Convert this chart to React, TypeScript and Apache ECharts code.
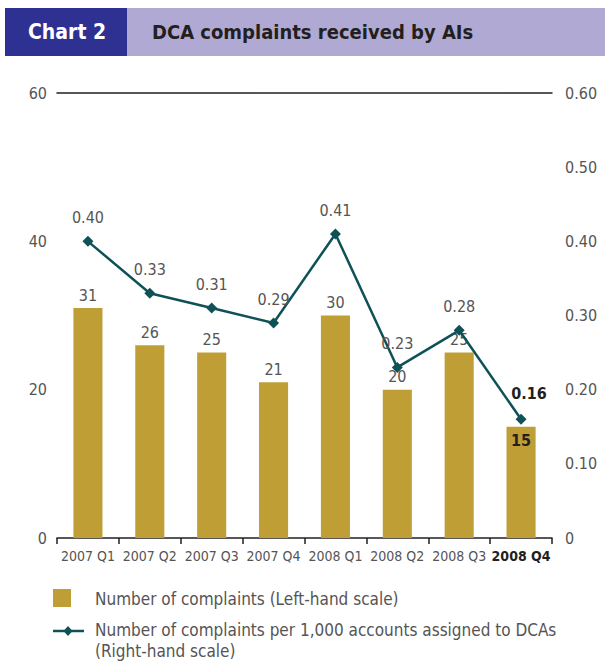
import React, { useEffect, useRef } from "react";
import * as echarts from "echarts";

const categories = ["2007 Q1", "2007 Q2", "2007 Q3", "2007 Q4", "2008 Q1", "2008 Q2", "2008 Q3", "2008 Q4"];
const complaints = [31, 26, 25, 21, 30, 20, 25, 15];
const perThousand = [0.40, 0.33, 0.31, 0.29, 0.41, 0.23, 0.28, 0.16];
const leftTicks = { min: 0, max: 60, interval: 20 };
const rightTicks = { min: 0, max: 0.6, interval: 0.1 };

const FONT = "'DejaVu Sans Condensed', 'Liberation Sans', sans-serif";
const GOLD = "#BE9E35";
const TEAL = "#0E5257";
const GREY = "#555555";
const DARK = "#231F20";

export default function App() {
  const ref = useRef<HTMLDivElement>(null);
  useEffect(() => {
    if (!ref.current) return;
    const chart = echarts.init(ref.current, null, { renderer: "svg" });
    const last = categories.length - 1;
    chart.setOption({
      animation: false,
      textStyle: { fontFamily: FONT },
      grid: { left: 57, right: 53, top: 93, bottom: 133 },
      xAxis: [
        {
          type: "category",
          data: categories.map((c, i) =>
            i === last ? { value: c, textStyle: { fontWeight: "bold", color: DARK } } : c
          ),
          axisLine: { lineStyle: { color: DARK, width: 1.5 } },
          axisTick: { show: true, length: 6, lineStyle: { color: DARK, width: 1.5 } },
          axisLabel: { color: GREY, fontSize: 14, margin: 11, interval: 0, fontFamily: FONT },
        },
        {
          type: "category",
          position: "top",
          data: categories,
          axisLine: { show: true, onZero: false, lineStyle: { color: DARK, width: 1.5 } },
          axisTick: { show: false },
          axisLabel: { show: false },
        },
      ],
      yAxis: [
        {
          type: "value",
          ...leftTicks,
          position: "left",
          splitLine: { show: false },
          axisLine: { show: false },
          axisTick: { show: false },
          axisLabel: { color: GREY, fontSize: 16, margin: 10, fontFamily: FONT },
        },
        {
          type: "value",
          ...rightTicks,
          position: "right",
          splitLine: { show: false },
          axisLine: { show: false },
          axisTick: { show: false },
          axisLabel: {
            color: GREY,
            fontSize: 16,
            margin: 13,
            fontFamily: FONT,
            formatter: (v: number) => (v === 0 ? "0" : v.toFixed(2)),
          },
        },
      ],
      series: [
        {
          name: "Number of complaints (Left-hand scale)",
          type: "bar",
          yAxisIndex: 0,
          barWidth: "47%",
          itemStyle: { color: GOLD },
          data: complaints.map((v, i) =>
            i === last
              ? {
                  value: v,
                  label: { position: "insideTop", fontWeight: "bold", color: DARK, distance: 6 },
                }
              : v
          ),
          label: { show: true, position: "top", color: GREY, fontSize: 16, distance: 5, fontFamily: FONT },
        },
        {
          name: "Number of complaints per 1,000 accounts assigned to DCAs (Right-hand scale)",
          type: "line",
          yAxisIndex: 1,
          symbol: "diamond",
          symbolSize: 11,
          lineStyle: { color: TEAL, width: 2.5 },
          itemStyle: { color: TEAL },
          data: perThousand.map((v, i) =>
            i === last
              ? {
                  value: v,
                  label: { fontWeight: "bold", color: DARK, offset: [8, -2] },
                }
              : v
          ),
          label: {
            show: true,
            position: "top",
            distance: 10,
            color: GREY,
            fontSize: 16,
            fontFamily: FONT,
            formatter: (p: any) => Number(p.value).toFixed(2),
          },
        },
      ],
      graphic: [
        { type: "rect", shape: { x: 5, y: 8, width: 122, height: 48 }, style: { fill: "#2E3192" } },
        { type: "rect", shape: { x: 127, y: 8, width: 478, height: 48 }, style: { fill: "#B0A9D3" } },
        {
          type: "text",
          x: 28,
          y: 32,
          style: { text: "Chart 2", fill: "#ffffff", font: `bold 21px ${FONT}`, verticalAlign: "middle" },
        },
        {
          type: "text",
          x: 152,
          y: 32,
          style: { text: "DCA complaints received by AIs", fill: DARK, font: `bold 20px ${FONT}`, verticalAlign: "middle" },
        },
        { type: "rect", shape: { x: 53, y: 589, width: 18, height: 18 }, style: { fill: GOLD } },
        {
          type: "text",
          x: 95,
          y: 599,
          style: { text: "Number of complaints (Left-hand scale)", fill: GREY, font: `17px ${FONT}`, verticalAlign: "middle" },
        },
        { type: "line", shape: { x1: 53, y1: 631, x2: 84, y2: 631 }, style: { stroke: TEAL, lineWidth: 2.5 } },
        {
          type: "polygon",
          shape: { points: [[68, 626], [72.5, 631], [68, 636], [63.5, 631]] },
          style: { fill: TEAL },
        },
        {
          type: "text",
          x: 95,
          y: 630,
          style: {
            text: "Number of complaints per 1,000 accounts assigned to DCAs",
            fill: GREY,
            font: `17px ${FONT}`,
            verticalAlign: "middle",
          },
        },
        {
          type: "text",
          x: 95,
          y: 651,
          style: { text: "(Right-hand scale)", fill: GREY, font: `17px ${FONT}`, verticalAlign: "middle" },
        },
      ],
    });
    return () => chart.dispose();
  }, []);
  return <div ref={ref} style={{ width: 605, height: 671, position: "absolute", left: 0, top: 0 }} />;
}
